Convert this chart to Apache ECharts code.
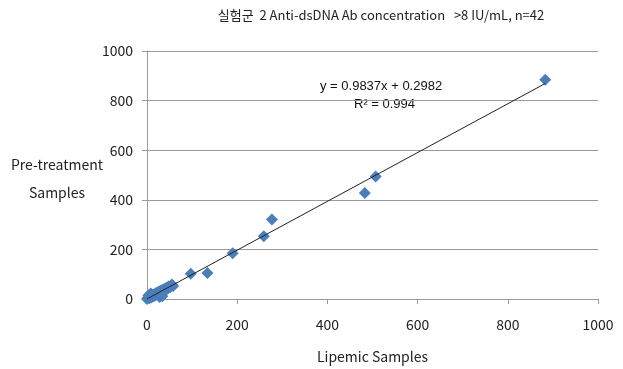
<!DOCTYPE html>
<html>
<head>
<meta charset="utf-8">
<script src="https://cdn.jsdelivr.net/npm/echarts@6/dist/echarts.min.js"></script>
<style>
  html, body { margin: 0; padding: 0; background: #fff; }
  #chart { width: 623px; height: 369px; }
</style>
</head>
<body>
<div id="chart"></div>
<script>
// lipemic (x) vs pre-treatment (y)
const lipemic = [0, 2, 3, 5, 6, 8, 9, 10, 12, 13, 15, 16, 18, 19, 20, 22, 24, 25, 27, 28, 30, 31, 33, 34, 36, 38, 40, 42, 44, 46, 48, 52, 55, 58,
  97, 134, 190, 259, 277, 483, 507, 883];
const pretreatment = [0, 5, 14, 3, 10, 22, 6, 12, 16, 9, 18, 13, 20, 15, 24, 19, 27, 22, 30, 8, 33, 26, 35, 11, 38, 33, 42, 37, 46, 41, 50, 48, 58, 52,
  102, 105, 184, 253, 321, 427, 494, 884];
const trendX = [0, 883];
const slope = 0.9837;
const intercept = 0.2982;
const axisTicks = [0, 200, 400, 600, 800, 1000];

const points = lipemic.map((x, i) => [x, pretreatment[i]]);
const trend = trendX.map((x) => [x, slope * x + intercept]);

const font = "'Noto Sans CJK KR', 'Noto Sans', sans-serif";
const chart = echarts.init(document.getElementById("chart"));
chart.setOption({
  animation: false,
  title: {
    text: "실험군  2 Anti-dsDNA Ab concentration   >8 IU/mL, n=42",
    left: 376,
    textAlign: "center",
    top: 4,
    textStyle: { fontSize: 13, fontWeight: "normal", color: "#222", fontFamily: font },
  },
  grid: { left: 147, right: 25, top: 51, bottom: 68 },
  xAxis: {
    type: "value",
    min: axisTicks[0],
    max: axisTicks[axisTicks.length - 1],
    interval: 200,
    name: "Lipemic Samples",
    nameLocation: "middle",
    nameGap: 51,
    nameTextStyle: { fontSize: 14, color: "#222", fontFamily: font },
    axisLine: { show: true, lineStyle: { color: "#999" } },
    axisTick: { show: true, length: 5, lineStyle: { color: "#999" } },
    axisLabel: { fontSize: 14, color: "#222", margin: 19, fontFamily: font, formatter: (v) => String(v) },
    splitLine: { show: false },
  },
  yAxis: {
    type: "value",
    min: axisTicks[0],
    max: axisTicks[axisTicks.length - 1],
    interval: 200,
    axisLine: { show: true, lineStyle: { color: "#999" } },
    axisTick: { show: true, length: 5, lineStyle: { color: "#999" } },
    axisLabel: { fontSize: 14, color: "#222", margin: 14, fontFamily: font, formatter: (v) => String(v) },
    splitLine: { show: true, lineStyle: { color: "#999", width: 1 } },
  },
  graphic: [
    {
      type: "text",
      x: 57,
      y: 165,
      style: { text: "Pre-treatment", align: "center", verticalAlign: "middle", font: "14px " + font, fill: "#222" },
    },
    {
      type: "text",
      x: 57,
      y: 193,
      style: { text: "Samples", align: "center", verticalAlign: "middle", font: "14px " + font, fill: "#222" },
    },
    {
      type: "text",
      left: 320,
      top: 80,
      style: { text: "y = 0.9837x + 0.2982", font: "13px 'Liberation Sans', Arial, sans-serif", fill: "#111" },
    },
    {
      type: "text",
      left: 354,
      top: 98,
      style: { text: "R² = 0.994", font: "13px 'Liberation Sans', Arial, sans-serif", fill: "#111" },
    },
  ],
  series: [
    {
      type: "scatter",
      data: points,
      symbol: "diamond",
      symbolSize: 12,
      itemStyle: { color: "#4a7ebb", opacity: 1 },
      z: 2,
    },
    {
      type: "line",
      data: trend,
      symbol: "none",
      lineStyle: { color: "#222", width: 1 },
      z: 3,
    },
  ],
});
</script>
</body>
</html>
